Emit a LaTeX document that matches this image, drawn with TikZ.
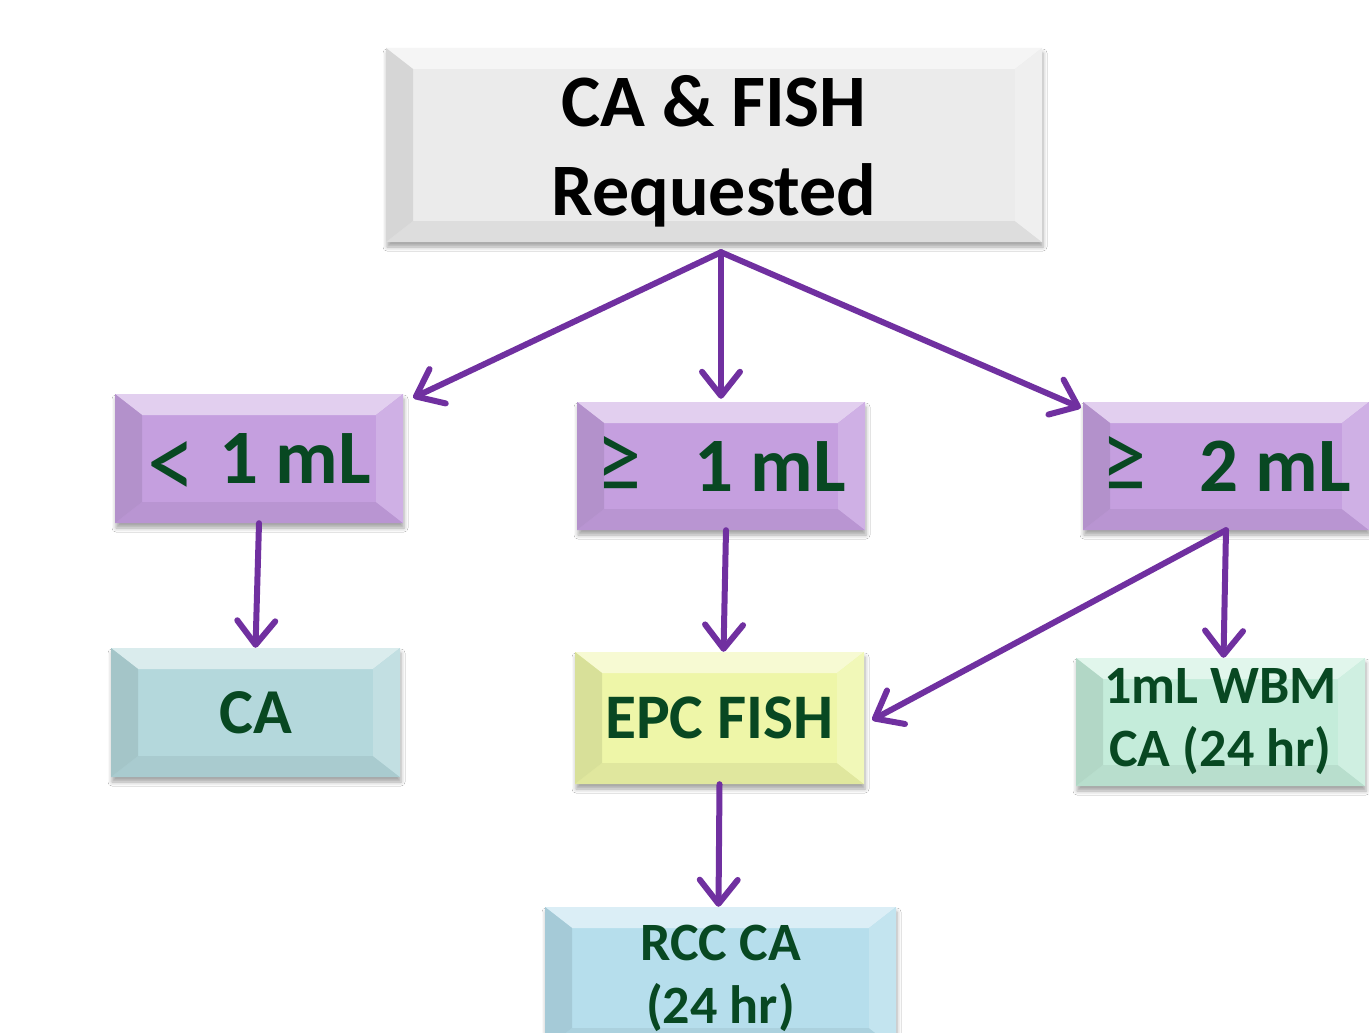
\documentclass[tikz,border=0pt]{standalone}
\usepackage{fontspec}
\setmainfont{Carlito}
\usetikzlibrary{arrows.meta,shadows.blur}
\definecolor{arrowpurple}{HTML}{7030A0}
\definecolor{txtgreen}{RGB}{8,72,34}
\definecolor{cgray}{HTML}{EBEBEB}
\definecolor{cpurple}{HTML}{C59FDF}
\definecolor{cteal}{HTML}{B4D8DC}
\definecolor{cyellow}{HTML}{EEF6A8}
\definecolor{cmint}{HTML}{C4ECDA}
\definecolor{cblue}{HTML}{B6DEEC}
\newcommand{\geqsym}{\raisebox{-1pt}[0pt][0pt]{\resizebox*{45pt}{56pt}{\mdseries ≥}}}
\newcommand{\ltsym}{\raisebox{-16pt}[0pt][0pt]{\resizebox*{48pt}{58pt}{\mdseries <}}}
\tikzset{
  bev/.style={rectangle, draw=none, fill=#1, inner sep=0pt,
    blur shadow={shadow xshift=1pt, shadow yshift=-5pt, shadow blur radius=4pt, shadow opacity=35},
    path picture={
      \fill[#1!50!white] (path picture bounding box.north west) -- (path picture bounding box.north east)
        -- ([xshift=-27pt,yshift=-21pt]path picture bounding box.north east)
        -- ([xshift=27pt,yshift=-21pt]path picture bounding box.north west) -- cycle;
      \fill[#1!94!black] (path picture bounding box.south west) -- (path picture bounding box.south east)
        -- ([xshift=-27pt,yshift=21pt]path picture bounding box.south east)
        -- ([xshift=27pt,yshift=21pt]path picture bounding box.south west) -- cycle;
      \fill[#1!91!black] (path picture bounding box.north west)
        -- ([xshift=27pt,yshift=-21pt]path picture bounding box.north west)
        -- ([xshift=27pt,yshift=21pt]path picture bounding box.south west)
        -- (path picture bounding box.south west) -- cycle;
      \fill[#1!82!white] (path picture bounding box.north east)
        -- ([xshift=-27pt,yshift=-21pt]path picture bounding box.north east)
        -- ([xshift=-27pt,yshift=21pt]path picture bounding box.south east)
        -- (path picture bounding box.south east) -- cycle;
    }},
  smallbox/.style={bev=#1, minimum width=288pt, minimum height=128pt, text=txtgreen,
    font=\fontsize{77}{80}\selectfont\bfseries},
  link/.style={draw=arrowpurple, line width=6pt, line cap=round,
    -{Straight Barb[length=24pt,width=38pt,line width=6pt,round]}},
}
\begin{document}
\begin{tikzpicture}[x=1pt,y=-1pt]
\clip (0,0) rectangle (1369,1033);
\fill[white] (0,0) rectangle (1369,1033);

\node[bev=cgray, minimum width=656pt, minimum height=194pt,
  font=\fontsize{74}{89}\selectfont\bfseries] (top) at (714,145)
  {\raisebox{-14pt}[0pt][0pt]{\begin{tabular}{@{}c@{}}CA \& FISH\\Requested\end{tabular}}};

\node[smallbox=cpurple, minimum height=129pt] (lt1) at (259,458.5) {\ltsym\hspace{24pt}1 mL};
\node[smallbox=cpurple] (ge1) at (721,466) {\geqsym\hspace{53pt}1 mL};
\node[smallbox=cpurple, minimum width=286pt] (ge2) at (1226,466) {\geqsym\hspace{53pt}2 mL};

\node[smallbox=cteal, minimum width=289pt, minimum height=129pt,
  font=\fontsize{64}{72}\selectfont\bfseries] (ca) at (255.5,712.5) {CA};
\node[smallbox=cyellow, minimum width=289pt, minimum height=132pt,
  font=\fontsize{63.5}{72}\selectfont\bfseries] (epc) at (719.5,718) {EPC FISH};
\node[smallbox=cmint, minimum width=289pt, align=center,
  font=\fontsize{54}{63}\selectfont\bfseries] (wbm) at (1220.5,722) {1mL WBM\\CA (24 hr)};
\node[bev=cblue, minimum width=351pt, minimum height=142pt, align=center, text=txtgreen,
  font=\fontsize{54}{63}\selectfont\bfseries] (rcc) at (720.5,978) {RCC CA\\(24 hr)};

\coordinate (tb) at ([xshift=7pt,yshift=-10pt]top.south);
\draw[link] (tb) -- ([xshift=10pt,yshift=-4pt]lt1.north east);
\draw[link] (tb) -- ([yshift=3pt]ge1.north);
\draw[link] (tb) -- ([xshift=-2pt,yshift=-6pt]ge2.north west);
\draw[link] (lt1.south) -- (ca.north);
\draw[link] ([xshift=5pt]ge1.south) -- ([xshift=4pt]epc.north);
\draw[link] (ge2.south) -- ([xshift=3pt]wbm.north);
\draw[link] (ge2.south) -- ([xshift=8pt,yshift=-2pt]epc.east);
\draw[link] ([xshift=0pt]epc.south) -- ([xshift=-2pt]rcc.north);
\end{tikzpicture}
\end{document}
